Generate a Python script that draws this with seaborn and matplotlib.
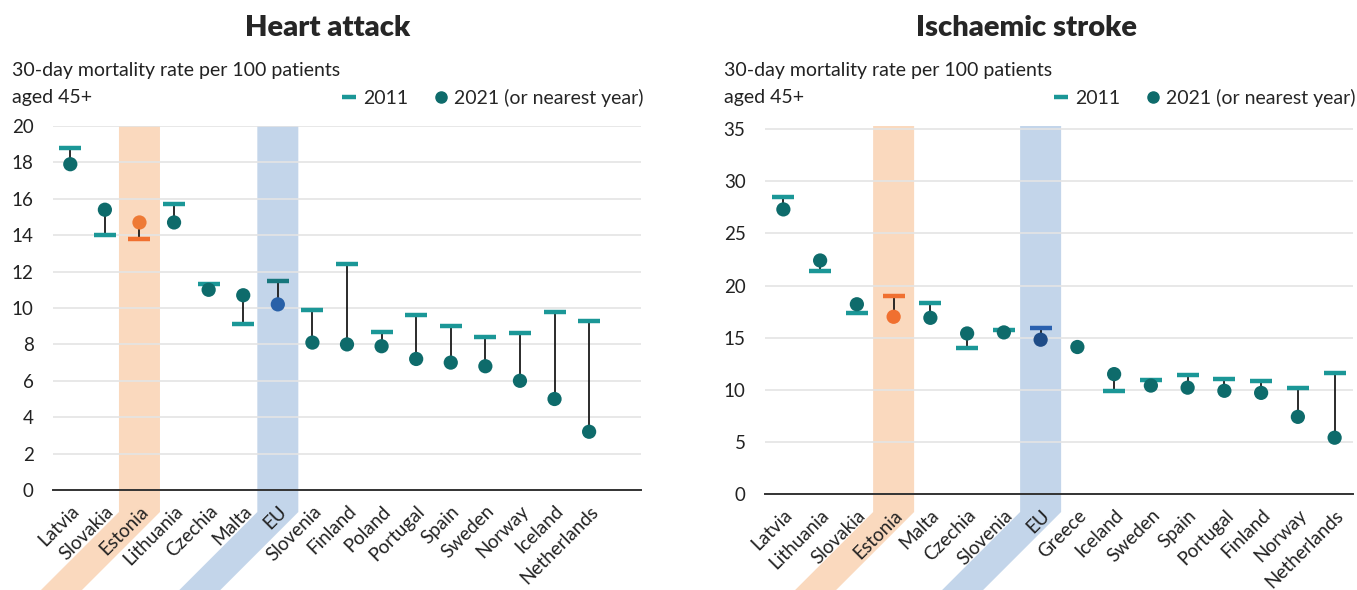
import numpy as np
import pandas as pd
import seaborn as sns
import matplotlib.pyplot as plt
from matplotlib.lines import Line2D
from matplotlib.patches import Polygon

sns.set_theme(style="white")
plt.rcParams['font.family'] = ['Lato', 'DejaVu Sans']

# Heart attack data
ha_countries = ['Latvia', 'Slovakia', 'Estonia', 'Lithuania', 'Czechia', 'Malta', 'EU', 'Slovenia',
                'Finland', 'Poland', 'Portugal', 'Spain', 'Sweden', 'Norway', 'Iceland', 'Netherlands']
ha_2011 = [18.8, 14.0, 13.8, 15.7, 11.3, 9.1, 11.5, 9.9, 12.4, 8.7, 9.6, 9.0, 8.4, 8.6, 9.8, 9.3]
ha_2021 = [17.9, 15.4, 14.7, 14.7, 11.0, 10.7, 10.2, 8.1, 8.0, 7.9, 7.2, 7.0, 6.8, 6.0, 5.0, 3.2]

# Ischaemic stroke data
st_countries = ['Latvia', 'Lithuania', 'Slovakia', 'Estonia', 'Malta', 'Czechia', 'Slovenia', 'EU',
                'Greece', 'Iceland', 'Sweden', 'Spain', 'Portugal', 'Finland', 'Norway', 'Netherlands']
st_2011 = [28.5, 21.4, 17.4, 19.0, 18.3, 14.0, 15.7, 15.9, np.nan, 9.9, 10.9, 11.4, 11.0, 10.8, 10.2, 11.6]
st_2021 = [27.3, 22.4, 18.2, 17.0, 16.9, 15.4, 15.5, 14.8, 14.1, 11.5, 10.4, 10.2, 9.9, 9.7, 7.4, 5.4]

W, H = 1357, 590
TEAL = '#1b9797'
DARK_TEAL = '#0e6b6b'
ORANGE = '#f07030'
BAND_OR = '#fad9be'
BAND_BL = '#c3d5ea'
TXT = 14

fig = plt.figure(figsize=(W / 100, H / 100), dpi=100)
ax1 = fig.add_axes([53 / W, 1 - 490 / H, (641 - 53) / W, (490 - 126) / H])
ax2 = fig.add_axes([765 / W, 1 - 494 / H, (1353 - 765) / W, (494 - 126) / H])


def group_of(c):
    return c if c in ('Estonia', 'EU') else 'other'


def draw_panel(ax, countries, v2011, v2021, ylim, yticks, nslots, bar_pal, dot_pal):
    df = pd.DataFrame({'country': countries, 'y2011': v2011, 'y2021': v2021})
    df['group'] = df['country'].map(group_of)
    df['pos'] = np.arange(len(df))

    ax.set_facecolor('none')
    ax.vlines(df['pos'], df['y2011'], df['y2021'], color='#1a1a1a', lw=1.3, zorder=2)
    sns.scatterplot(data=df, x='pos', y='y2011', hue='group', palette=bar_pal, marker='_',
                    s=250, linewidth=3.2, legend=False, ax=ax, zorder=3)
    sns.scatterplot(data=df, x='pos', y='y2021', hue='group', palette=dot_pal, marker='o',
                    s=105, edgecolor='none', legend=False, ax=ax, zorder=4)

    ax.set_xlim(-0.5, nslots - 0.5)
    ax.set_ylim(*ylim)
    ax.set_yticks(yticks)
    ax.set_xticks(df['pos'])
    ax.set_xticklabels(df['country'], rotation=45, ha='right', va='top', rotation_mode='anchor')
    ax.tick_params(axis='x', labelsize=13.6, colors='#222222', length=0, pad=9)
    ax.tick_params(axis='y', labelsize=13.5, colors='#222222', length=0, pad=14)
    ax.set_xlabel('')
    ax.set_ylabel('')
    ax.grid(axis='y', color='#e4e4e4', lw=1.2)
    ax.set_axisbelow(True)
    for s in ['top', 'right', 'left']:
        ax.spines[s].set_visible(False)
    ax.spines['bottom'].set_color('#333333')
    ax.spines['bottom'].set_linewidth(1.4)
    ax.spines['bottom'].set_zorder(5)

    # highlight bands (vertical, then slanted under the labels)
    fig.canvas.draw()
    top_px = 126
    for country, col in (('Estonia', BAND_OR), ('EU', BAND_BL)):
        xc = ax.transData.transform((countries.index(country), 0))[0]
        hw = 20.5
        pts = [(xc - hw, top_px), (xc + hw, top_px), (xc + hw, 512), (xc + hw - 78, 590),
               (xc - hw - 78, 590), (xc - hw, 512)]
        pts = [(px / W, 1 - py / H) for px, py in pts]
        fig.add_artist(Polygon(pts, closed=True, transform=fig.transFigure,
                               facecolor=col, edgecolor='none', zorder=-1))

    handles = [Line2D([], [], marker='_', color=TEAL, markersize=10, mew=3.2, linestyle='none'),
               Line2D([], [], marker='o', color=DARK_TEAL, markersize=8, linestyle='none')]
    ax.legend(handles, ['2011', '2021 (or nearest year)'], loc='lower right',
              bbox_to_anchor=(1.005, 1.052), ncol=2, frameon=False, fontsize=TXT,
              handlelength=0.6, handletextpad=0.4, columnspacing=1.4, borderpad=0, borderaxespad=0)


draw_panel(ax1, ha_countries, ha_2011, ha_2021, (0, 20), range(0, 21, 2), 17,
           {'other': TEAL, 'Estonia': ORANGE, 'EU': '#17777d'},
           {'other': DARK_TEAL, 'Estonia': '#ee7a35', 'EU': '#2961a8'})
draw_panel(ax2, st_countries, st_2011, st_2021, (0, 35.3), range(0, 36, 5), 16,
           {'other': TEAL, 'Estonia': ORANGE, 'EU': '#2a60ae'},
           {'other': DARK_TEAL, 'Estonia': ORANGE, 'EU': '#1f4c87'})

fig.text(328 / W, 1 - 28 / H, 'Heart attack', ha='center', va='center', fontsize=21, fontweight='heavy')
fig.text(1026 / W, 1 - 28 / H, 'Ischaemic stroke', ha='center', va='center', fontsize=21, fontweight='heavy')
ylab = '30-day mortality rate per 100 patients\naged 45+'
fig.text(12 / W, 1 - 62 / H, ylab, ha='left', va='top', fontsize=TXT, color='#222222', linespacing=1.7)
fig.text(724 / W, 1 - 62 / H, ylab, ha='left', va='top', fontsize=TXT, color='#222222', linespacing=1.7)

fig.savefig('out.png', dpi=100)
